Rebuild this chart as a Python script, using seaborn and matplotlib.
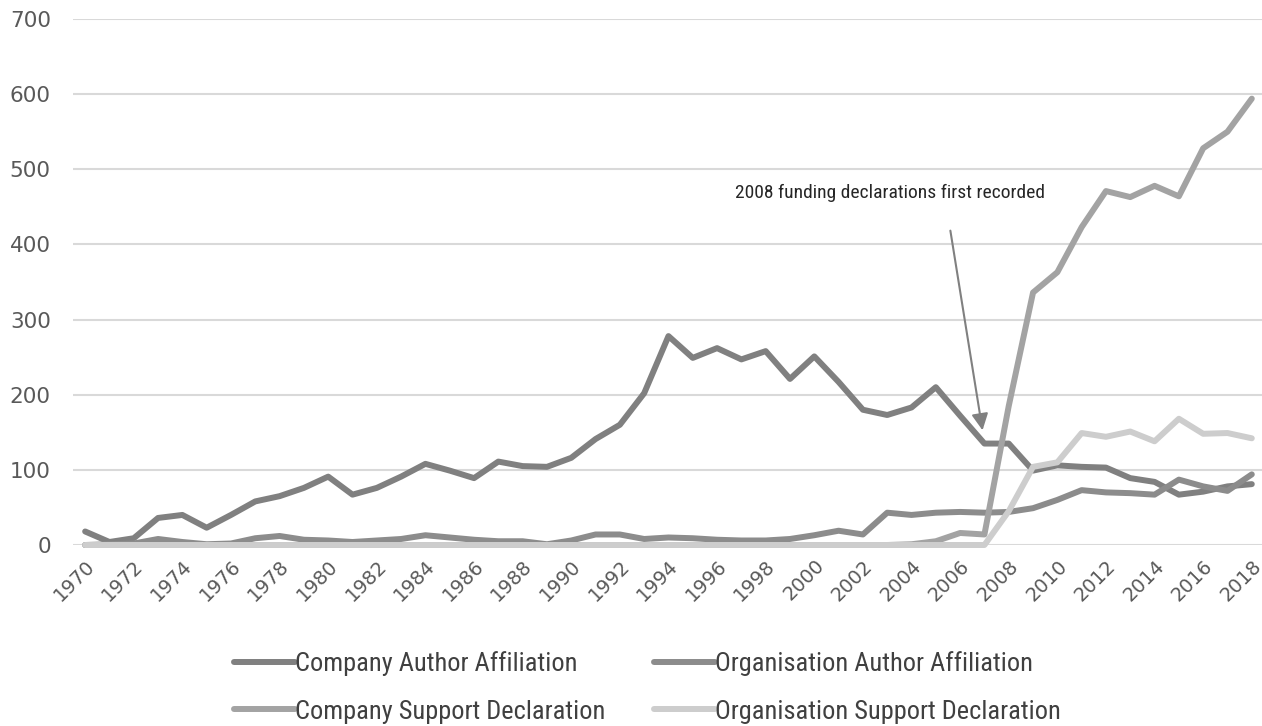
import numpy as np
import pandas as pd
import seaborn as sns
import matplotlib.pyplot as plt
from matplotlib import font_manager

years = list(range(1970, 2019))

company_author = [18, 4, 9, 36, 40, 23, 40, 58, 65, 76,
                  91, 67, 76, 91, 108, 99, 89, 111, 105, 104,
                  116, 141, 160, 202, 278, 249, 262, 247, 258, 221,
                  251, 217, 180, 173, 183, 210, 172, 135, 135, 99,
                  106, 104, 103, 89, 84, 67, 71, 78, 81]
org_author = [0, 1, 2, 8, 4, 1, 2, 9, 12, 7,
              6, 4, 6, 8, 13, 10, 7, 5, 5, 1,
              6, 14, 14, 8, 10, 9, 7, 6, 6, 8,
              13, 19, 14, 43, 40, 43, 44, 43, 44, 49,
              60, 73, 70, 69, 67, 87, 78, 72, 94]
company_support = [0] * 34 + [1, 5, 16, 14, 185, 336,
                              363, 423, 471, 463, 478, 464, 528, 550, 594]
org_support = [0] * 38 + [45, 104, 110, 149, 144, 151, 138, 168, 148, 149, 142]

series_names = ["Company Author Affiliation", "Organisation Author Affiliation",
                "Company Support Declaration", "Organisation Support Declaration"]
colors = ["#808080", "#8c8c8c", "#a3a3a3", "#cdcdcd"]

df = pd.DataFrame({
    "Year": years * 4,
    "Count": company_author + org_author + company_support + org_support,
    "Series": np.repeat(series_names, len(years)),
})

# pick a narrow face for the annotation/legend if one is installed
installed = {f.name for f in font_manager.fontManager.ttflist}
narrow = [f for f in ["Roboto Condensed", "Open Sans Condensed",
                      "Liberation Sans Narrow", "DejaVu Sans Condensed", "Lato"]
          if f in installed] + ["DejaVu Sans"]

sns.set_style("white")
plt.rcParams["font.family"] = ["DejaVu Sans"]

fig = plt.figure(figsize=(12.62, 7.26), dpi=100)
ax = fig.add_axes([73 / 1262, 1 - 545 / 726, 1 - 73 / 1262, (545 - 19) / 726])

sns.lineplot(data=df, x="Year", y="Count", hue="Series", hue_order=series_names,
             palette=colors, linewidth=4.3, ax=ax, clip_on=False)

ax.set_xlim(1969.5, 2018.42)
ax.set_ylim(0, 700)
ax.set_yticks(range(0, 701, 100))
ax.set_xticks(years[::2])
ax.set_xticklabels([str(y) for y in years[::2]], rotation=45, ha="right",
                   va="top", rotation_mode="anchor")
ax.grid(axis="y", color="#d9d9d9", linewidth=1.5)
ax.set_axisbelow(True)
for s in ax.spines.values():
    s.set_visible(False)
ax.tick_params(axis="y", length=0, pad=16, labelsize=15.5, labelcolor="#595959")
ax.tick_params(axis="x", length=0, pad=8, labelsize=14, labelcolor="#595959")
ax.set_xlabel("")
ax.set_ylabel("")

ax.text(2003.1, 468, "2008 funding declarations first recorded", ha="center",
        va="center", fontsize=14, color="#262626", family=narrow)
ax.annotate("", xy=(2006.94, 149), xytext=(2005.58, 422),
            arrowprops=dict(arrowstyle="-|>", color="#808080", lw=1.5,
                            mutation_scale=25))

h, l = ax.get_legend_handles_labels()
order = [0, 2, 1, 3]
leg = ax.legend([h[i] for i in order], [l[i] for i in order], ncol=2,
                loc="center", bbox_to_anchor=(0.483, -0.271), frameon=False,
                handlelength=2.3, handletextpad=0.0, columnspacing=1.85,
                labelspacing=0.88, prop={"family": narrow, "size": 19})
for t in leg.get_texts():
    t.set_color("#404040")

fig.savefig("out.png", dpi=100)
